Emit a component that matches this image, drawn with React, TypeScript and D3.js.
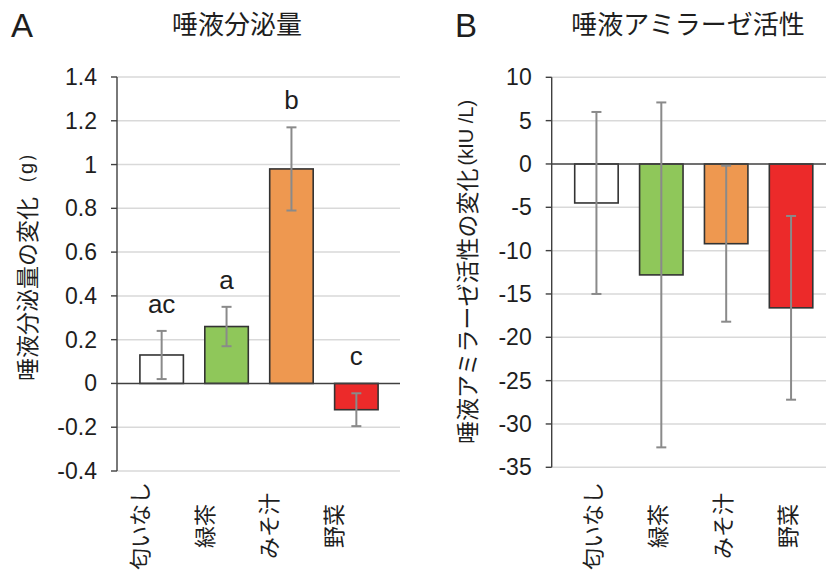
import React from "react";
import * as d3 from "d3";

// data
const categories = ["匂いなし", "緑茶", "みそ汁", "野菜"];
const salivaValues = [0.13, 0.26, 0.98, -0.12];
const salivaErrors = [0.11, 0.09, 0.19, 0.075];
const salivaLetters = ["ac", "a", "b", "c"];
const salivaTicks = [-0.4, -0.2, 0, 0.2, 0.4, 0.6, 0.8, 1, 1.2, 1.4];
const amylaseValues = [-4.5, -12.8, -9.2, -16.6];
const amylaseErrors = [10.5, 19.9, 9.0, 10.6];
const amylaseTicks = [-35, -30, -25, -20, -15, -10, -5, 0, 5, 10];

const barColors = ["#ffffff", "#8fc75a", "#ee9850", "#ec2a2a"];
const NUM_FONT = "'Liberation Sans', Arial, sans-serif";
const JP_FONT = "'Noto Sans CJK JP', 'Noto Sans', sans-serif";
const INK = "#1e1e1e";

type PanelProps = {
  letter: string;
  letterX: number;
  title: string;
  titleX: number;
  yTitle: string;
  yUnit: string;
  yTitleX: number;
  yTitleY: number;
  values: number[];
  errors: number[];
  ticks: number[];
  letters?: string[];
  axisX: number;
  plotRight: number;
  yRange: [number, number];
  bandRange: [number, number];
  labelOffset: number;
};

function Panel(p: PanelProps) {
  const y = d3.scaleLinear()
    .domain([p.ticks[0], p.ticks[p.ticks.length - 1]])
    .range(p.yRange);
  const x = d3.scaleBand<string>()
    .domain(categories)
    .range(p.bandRange)
    .paddingInner(0.33)
    .paddingOuter(0.165);
  const bw = x.bandwidth();

  return (
    <g>
      <text x={p.letterX} y={37} fontFamily={NUM_FONT} fontSize={33} fill={INK}>{p.letter}</text>
      <text x={p.titleX} y={22} textAnchor="middle" dominantBaseline="central"
        fontFamily={JP_FONT} fontSize={26} fill={INK}>{p.title}</text>

      {/* y axis title */}
      <text transform={`translate(${p.yTitleX},${p.yTitleY}) rotate(-90)`} textAnchor="middle"
        dominantBaseline="central" fill={INK}>
        <tspan fontFamily={JP_FONT} fontSize={23}>{p.yTitle}</tspan>
        <tspan fontFamily={NUM_FONT} fontSize={20} dx={3}>{p.yUnit}</tspan>
      </text>

      {/* gridlines */}
      {p.ticks.filter(t => t !== 0).map(t => (
        <line key={"g" + t} x1={p.axisX} x2={p.plotRight} y1={y(t)} y2={y(t)}
          stroke="#d9d9d9" strokeWidth={1.5} />
      ))}

      {/* bars */}
      {categories.map((c, i) => {
        const v = p.values[i];
        return (
          <rect key={c} x={x(c)} width={bw} y={y(Math.max(0, v))}
            height={Math.abs(y(v) - y(0))} fill={barColors[i]} stroke="#333" strokeWidth={1.6} />
        );
      })}

      {/* zero line */}
      <line x1={p.axisX} x2={p.plotRight} y1={y(0)} y2={y(0)} stroke="#404040" strokeWidth={1.4} />

      {/* error bars */}
      {categories.map((c, i) => {
        const cx = (x(c) as number) + bw / 2;
        const lo = y(p.values[i] - p.errors[i]);
        const hi = y(p.values[i] + p.errors[i]);
        return (
          <g key={"e" + c} stroke="#8a8a8a" strokeWidth={2}>
            <line x1={cx} x2={cx} y1={hi} y2={lo} />
            <line x1={cx - 5} x2={cx + 5} y1={hi} y2={hi} />
            <line x1={cx - 5} x2={cx + 5} y1={lo} y2={lo} />
          </g>
        );
      })}

      {/* significance letters */}
      {p.letters && categories.map((c, i) => (
        <text key={"l" + c} x={(x(c) as number) + bw / 2}
          y={y(Math.max(0, p.values[i] + p.errors[i])) - 18}
          textAnchor="middle" fontFamily={NUM_FONT} fontSize={26} fill={INK}>{p.letters![i]}</text>
      ))}

      {/* y axis */}
      <line x1={p.axisX} x2={p.axisX} y1={p.yRange[1]} y2={p.yRange[0]} stroke="#404040" strokeWidth={1.4} />
      {p.ticks.map(t => (
        <g key={"t" + t}>
          <line x1={p.axisX - 6} x2={p.axisX} y1={y(t)} y2={y(t)} stroke="#404040" strokeWidth={1.4} />
          <text x={p.axisX - 20} y={y(t)} textAnchor="end" dominantBaseline="central"
            fontFamily={NUM_FONT} fontSize={23} fill={INK}>{String(t)}</text>
        </g>
      ))}

      {/* category labels */}
      {categories.map(c => (
        <text key={"c" + c}
          transform={`translate(${(x(c) as number) + bw / 2 + p.labelOffset},526) rotate(-90)`}
          textAnchor="middle" dominantBaseline="central" fontFamily={JP_FONT} fontSize={22} fill={INK}>{c}</text>
      ))}
    </g>
  );
}

export default function App() {
  return (
    <div style={{ position: "absolute", left: 0, top: 0 }}>
      <svg width={826} height={575} style={{ display: "block", background: "#fff" }}>
        <Panel letter="A" letterX={11} title="唾液分泌量" titleX={237}
          yTitle="唾液分泌量の変化" yUnit="（g）" yTitleX={26} yTitleY={262}
          values={salivaValues} errors={salivaErrors} ticks={salivaTicks} letters={salivaLetters}
          axisX={117} plotRight={400} yRange={[471, 77]} bandRange={[129.2, 388.8]} labelOffset={-24} />
        <Panel letter="B" letterX={455} title="唾液アミラーゼ活性" titleX={688}
          yTitle="唾液アミラーゼ活性の変化" yUnit="(kIU /L)" yTitleX={466} yTitleY={272}
          values={amylaseValues} errors={amylaseErrors} ticks={amylaseTicks}
          axisX={551.7} plotRight={826} yRange={[467.3, 77.3]} bandRange={[564, 823.5]} labelOffset={-5} />
      </svg>
    </div>
  );
}
